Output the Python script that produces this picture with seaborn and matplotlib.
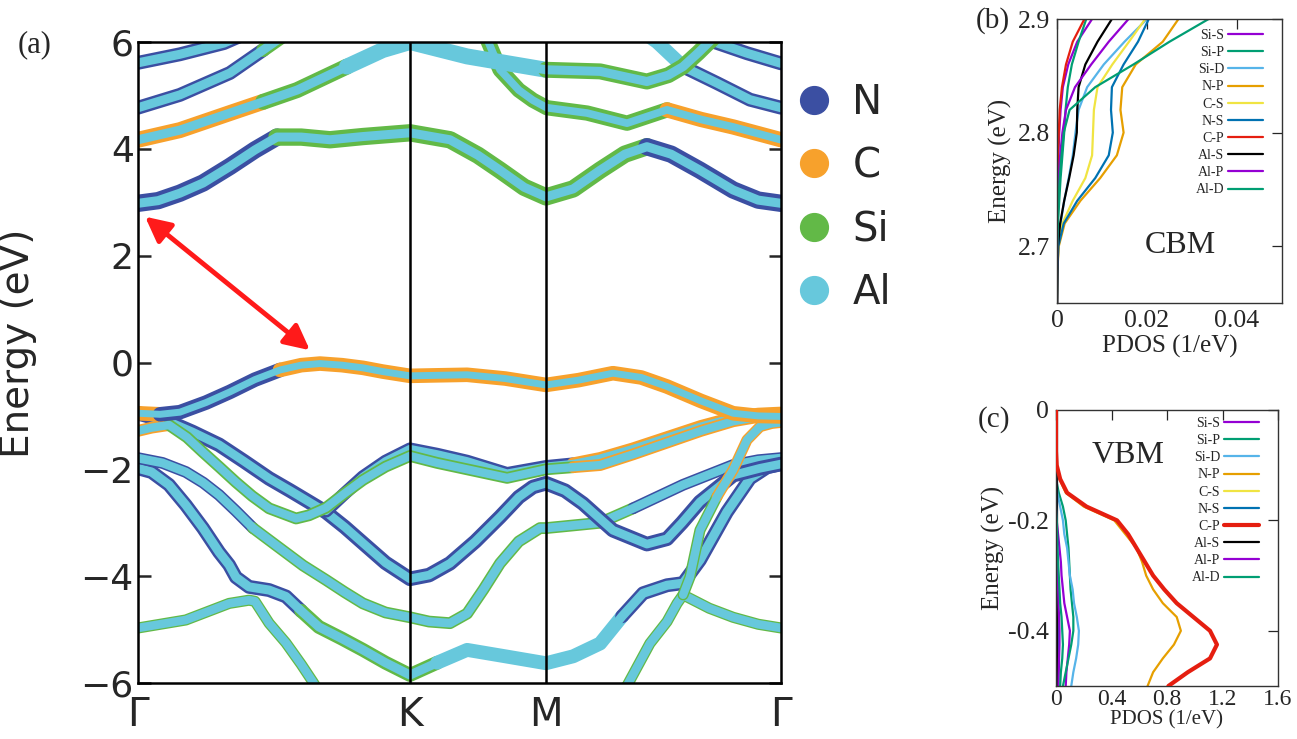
import matplotlib
matplotlib.use("Agg")
import matplotlib.pyplot as plt
from matplotlib.lines import Line2D
import seaborn as sns

sns.set_style("white")
plt.rcParams["font.family"] = ["DejaVu Sans"]

# ------------------------------------------------------------------ data
ATOMS = ["N", "C", "Si", "Al"]
ATOM_COLORS = {"N": "#3b4fa2", "C": "#f7a12c", "Si": "#62b947", "Al": "#67c8dc"}

KPATH_POS = [0.0, 1.0, 1.5, 2.364]
KPATH_LABELS = ["Γ", "K", "M", "Γ"]
E_TICKS = [6, 4, 2, 0, -2, -4, -6]

# conduction bands  (k along path, energy eV, dominant edge atom)
cb1_k = [0, 0.074, 0.154, 0.239, 0.338, 0.43, 0.511, 0.6, 0.706, 0.827, 1.0, 1.147, 1.25, 1.331, 1.42,
         1.5, 1.6, 1.699, 1.79, 1.871, 1.96, 2.066, 2.188, 2.28, 2.364]
cb1_e = [2.98, 3.03, 3.17, 3.36, 3.67, 3.98, 4.22, 4.22, 4.17, 4.23, 4.30, 4.17, 3.88, 3.60, 3.28,
         3.10, 3.25, 3.60, 3.90, 4.04, 3.90, 3.60, 3.23, 3.04, 2.98]
cb1_w = ["N"] * 6 + ["Si"] * 13 + ["N"] * 6

cb2_k = [0, 0.154, 0.338, 0.46, 0.585, 0.768, 0.9, 1.0, 1.21, 1.5, 1.699, 1.871, 1.95, 2.004, 2.06, 2.12]
cb2_e = [4.17, 4.35, 4.67, 4.88, 5.10, 5.54, 5.85, 6.0, 5.73, 5.48, 5.45, 5.26, 5.38, 5.54, 5.80, 6.1]
cb2_w = ["C", "C", "C", "Si", "Si", "Al", "Al", "Al", "Al", "Si", "Si", "Si", "Si", "Si", "Si", "Si"]

cb3_k = [0, 0.154, 0.338, 0.46, 0.53]
cb3_e = [4.77, 5.01, 5.42, 5.85, 6.1]
cb3_w = ["N", "N", "N", "Si", "Si"]

cb4_k = [0, 0.154, 0.316, 0.37]
cb4_e = [5.61, 5.77, 5.98, 6.1]
cb4_w = ["N", "N", "N", "N"]

cb5_k = [2.09, 2.239, 2.364]
cb5_e = [6.05, 5.79, 5.60]
cb5_w = ["N", "N", "N"]

cb6_k = [1.88, 1.908, 2.004, 2.129, 2.25, 2.364]
cb6_e = [6.1, 6.0, 5.54, 5.23, 4.92, 4.77]
cb6_w = ["Al", "Al", "N", "N", "N", "N"]

cb7_k = [1.28, 1.331, 1.40, 1.452, 1.503, 1.651, 1.798, 1.945, 2.07, 2.188, 2.364]
cb7_e = [6.1, 5.48, 5.1, 4.91, 4.77, 4.67, 4.48, 4.73, 4.55, 4.41, 4.17]
cb7_w = ["Si"] * 7 + ["C"] * 4

# valence bands
vb1_k = [0, 0.081, 0.154, 0.25, 0.338, 0.43, 0.522, 0.6, 0.669, 0.75, 0.827, 0.9, 1.0, 1.1, 1.21,
         1.35, 1.5, 1.62, 1.746, 1.85, 1.945, 2.07, 2.188, 2.28, 2.364]
vb1_e = [-0.95, -0.97, -0.93, -0.75, -0.55, -0.32, -0.14, -0.05, -0.02, -0.05, -0.10, -0.17, -0.25,
         -0.24, -0.23, -0.30, -0.42, -0.33, -0.20, -0.28, -0.45, -0.72, -0.95, -1.0, -1.01]
vb1_w = ["C"] + ["N"] * 5 + ["C"] * 19

vb2_k = [0, 0.114, 0.2, 0.298, 0.39, 0.482, 0.56, 0.629, 0.691, 0.76, 0.827, 0.91, 1.0, 1.07, 1.147,
         1.24, 1.331, 1.40, 1.452, 1.5, 1.57, 1.636, 1.746, 1.871, 1.945, 2.0, 2.066, 2.188, 2.287, 2.364]
vb2_e = [-0.95, -1.11, -1.30, -1.54, -1.85, -2.17, -2.40, -2.61, -2.80, -3.08, -3.38, -3.75, -4.05,
         -3.98, -3.76, -3.35, -2.89, -2.52, -2.33, -2.26, -2.40, -2.64, -3.14, -3.40, -3.30, -3.0,
         -2.61, -2.11, -1.98, -1.90]
vb2_w = ["N"] * 30

vb3_k = [0, 0.05, 0.114, 0.18, 0.239, 0.30, 0.360, 0.42, 0.482, 0.581, 0.629, 0.691, 0.76, 0.827,
         0.91, 1.0, 1.1, 1.21, 1.357, 1.5, 1.6, 1.699, 1.82, 1.945, 2.07, 2.188, 2.28, 2.364]
vb3_e = [-1.28, -1.22, -1.17, -1.40, -1.68, -1.96, -2.24, -2.50, -2.73, -2.92, -2.86, -2.72, -2.45,
         -2.20, -1.95, -1.75, -1.88, -2.0, -2.16, -2.0, -1.96, -1.92, -1.72, -1.50, -1.28, -1.10,
         -1.02, -0.98]
vb3_w = ["C"] * 2 + ["Si"] * 18 + ["C"] * 8

vbp_k = [0.691, 0.76, 0.827, 0.91, 1.0, 1.1, 1.21, 1.357, 1.5, 1.6, 1.699, 1.82, 1.945, 2.07, 2.188,
         2.28, 2.364]
vbp_e = [-2.78, -2.45, -2.14, -1.85, -1.62, -1.72, -1.85, -2.08, -1.95, -1.90, -1.80, -1.62, -1.41,
         -1.20, -1.04, -0.97, -0.95]
vbp_w = ["N"] * 9 + ["C"] * 8

l2_k = [0, 0.09, 0.176, 0.24, 0.298, 0.36, 0.423, 0.507, 0.607, 0.691, 0.76, 0.827, 0.91, 1.0, 1.07,
        1.147, 1.21, 1.27, 1.331, 1.40, 1.478, 1.5, 1.6, 1.699, 1.82, 2.004, 2.188, 2.28, 2.364]
l2_e = [-1.79, -1.88, -2.05, -2.25, -2.48, -2.78, -3.10, -3.42, -3.80, -4.07, -4.30, -4.51, -4.68,
        -4.77, -4.85, -4.88, -4.70, -4.25, -3.76, -3.35, -3.10, -3.10, -3.05, -3.0, -2.73, -2.29,
        -1.92, -1.83, -1.79]
l2_w = ["N"] * 6 + ["Si"] * 18 + ["N"] * 5

l1_k = [0, 0.05, 0.114, 0.176, 0.239, 0.298, 0.335, 0.360, 0.408, 0.482, 0.544, 0.60, 0.665, 0.75,
        0.827, 0.91, 1.0, 1.1, 1.21, 1.35, 1.5, 1.6, 1.699, 1.78, 1.857, 1.945, 2.004, 2.066, 2.165,
        2.25, 2.313, 2.364]
l1_e = [-1.98, -2.05, -2.29, -2.67, -3.10, -3.55, -3.79, -4.02, -4.20, -4.26, -4.38, -4.65, -4.95,
        -5.17, -5.38, -5.62, -5.85, -5.62, -5.38, -5.50, -5.63, -5.50, -5.26, -4.75, -4.32, -4.17,
        -4.13, -3.70, -2.80, -2.17, -1.96, -1.90]
l1_w = ["N"] * 11 + ["Si"] * 6 + ["Al"] * 6 + ["N"] * 9

l3a_k = [0, 0.176, 0.335, 0.408, 0.43, 0.482, 0.544, 0.60, 0.643, 0.67]
l3a_e = [-4.97, -4.82, -4.51, -4.45, -4.47, -4.88, -5.25, -5.65, -5.98, -6.2]
l3a_w = ["Si"] * 10

l3b_k = [1.77, 1.798, 1.882, 1.945, 1.982, 2.004, 2.10, 2.188, 2.28, 2.364]
l3b_e = [-6.2, -6.05, -5.26, -4.85, -4.51, -4.35, -4.60, -4.77, -4.90, -4.97]
l3b_w = ["Si"] * 10

vbd_k = [2.004, 2.029, 2.066, 2.129, 2.188, 2.239, 2.287, 2.33, 2.364]
vbd_e = [-4.35, -4.02, -3.14, -2.51, -2.01, -1.45, -1.20, -1.14, -1.12]
vbd_w = ["Si", "Si", "Si", "C", "C", "C", "C", "C", "C"]

# PDOS panel (b): CBM
pdos_b_energy = [2.65, 2.68, 2.70, 2.72, 2.74, 2.76, 2.78, 2.80, 2.82, 2.84, 2.86, 2.88, 2.90]
pdos_b_sis = [0, 0, 0, 0, 0.0001, 0.0002, 0.0003, 0.0005, 0.0008, 0.0013, 0.0025, 0.0045, 0.0078]
pdos_b_sip = [0, 0.00005, 0.0001, 0.0002, 0.0005, 0.0008, 0.0012, 0.0016, 0.0019, 0.0024, 0.0033, 0.0048, 0.0065]
pdos_b_sid = [0, 0.0001, 0.0003, 0.0008, 0.0016, 0.0026, 0.0035, 0.0041, 0.0048, 0.0067, 0.0104, 0.0150, 0.0200]
pdos_b_np = [0, 0.0001, 0.0004, 0.0017, 0.0052, 0.0096, 0.0133, 0.0148, 0.0141, 0.0145, 0.0175, 0.0235, 0.0270]
pdos_b_cs = [0, 0.0001, 0.0002, 0.0012, 0.0035, 0.0063, 0.0078, 0.0080, 0.0082, 0.0090, 0.0123, 0.0160, 0.0196]
pdos_b_ns = [0, 0.0001, 0.0003, 0.0015, 0.0045, 0.0085, 0.0115, 0.0124, 0.0120, 0.0122, 0.0148, 0.0180, 0.0204]
pdos_b_cp = [0, 0, 0, 0, 0, 0.0001, 0.0002, 0.0004, 0.0006, 0.0011, 0.0020, 0.0035, 0.0061]
pdos_b_als = [0, 0.0001, 0.0002, 0.0007, 0.0016, 0.0027, 0.0037, 0.0044, 0.0045, 0.0048, 0.0063, 0.0090, 0.0122]
pdos_b_alp = [0, 0, 0.0001, 0.0001, 0.0002, 0.0004, 0.0007, 0.0012, 0.0020, 0.0040, 0.0076, 0.0115, 0.0159]
pdos_b_ald = [0, 0, 0.0001, 0.0002, 0.0003, 0.0006, 0.0010, 0.0015, 0.0028, 0.0085, 0.0170, 0.0250, 0.0337]

# PDOS panel (c): VBM
pdos_c_energy = [0, -0.025, -0.05, -0.075, -0.1, -0.125, -0.15, -0.175, -0.2, -0.225, -0.25, -0.275,
                 -0.3, -0.325, -0.35, -0.375, -0.4, -0.425, -0.45, -0.475, -0.5]
pdos_c_sis = [0, 0, 0, 0, 0, 0, 0, 0, 0.005, 0.015, 0.025, 0.035, 0.04, 0.05, 0.06, 0.08, 0.10, 0.095, 0.085, 0.075, 0.07]
pdos_c_sip = [0, 0, 0, 0, 0, 0, 0.02, 0.05, 0.07, 0.08, 0.09, 0.095, 0.10, 0.105, 0.115, 0.125, 0.125, 0.11, 0.09, 0.07, 0.05]
pdos_c_sid = [0, 0, 0, 0, 0, 0, 0.01, 0.03, 0.05, 0.06, 0.08, 0.09, 0.10, 0.12, 0.13, 0.15, 0.165, 0.16, 0.145, 0.125, 0.11]
pdos_c_np = [0, 0, 0, 0, 0.004, 0.025, 0.07, 0.20, 0.42, 0.50, 0.58, 0.62, 0.65, 0.70, 0.77, 0.87, 0.90, 0.85, 0.77, 0.70, 0.66]
pdos_c_cs = [0, 0, 0, 0, 0, 0, 0.001, 0.002, 0.003, 0.004, 0.005, 0.006, 0.007, 0.008, 0.009, 0.01, 0.011, 0.011, 0.01, 0.009, 0.009]
pdos_c_ns = [0, 0, 0, 0, 0, 0, 0.002, 0.004, 0.006, 0.007, 0.008, 0.009, 0.01, 0.011, 0.012, 0.013, 0.014, 0.014, 0.013, 0.012, 0.011]
pdos_c_cp = [0, 0, 0, 0, 0.005, 0.03, 0.08, 0.22, 0.44, 0.52, 0.58, 0.64, 0.70, 0.78, 0.87, 0.99, 1.11, 1.16, 1.11, 0.95, 0.81]
pdos_c_als = [0.004, 0.004, 0.004, 0.004, 0.004, 0.004, 0.004, 0.004, 0.004, 0.004, 0.004, 0.004, 0.004, 0.004, 0.004, 0.004, 0.004, 0.004, 0.004, 0.004, 0.004]
pdos_c_alp = [0, 0, 0, 0, 0, 0, 0, 0, 0.003, 0.005, 0.008, 0.01, 0.012, 0.015, 0.018, 0.022, 0.025, 0.025, 0.022, 0.02, 0.018]
pdos_c_ald = [0, 0, 0, 0, 0, 0, 0, 0, 0.005, 0.008, 0.01, 0.015, 0.02, 0.025, 0.03, 0.04, 0.045, 0.05, 0.045, 0.035, 0.03]

ORBITALS = ["Si-S", "Si-P", "Si-D", "N-P", "C-S", "N-S", "C-P", "Al-S", "Al-P", "Al-D"]
ORB_COLORS = ["#9400d3", "#009e73", "#56b4e9", "#e69f00", "#f0e442", "#0072b2", "#e51e10",
              "#000000", "#9400d3", "#009e73"]

# ------------------------------------------------------------------ figure
W, H = 1297, 739
fig = plt.figure(figsize=(W / 100, H / 100), dpi=100)


def frac_box(l, t, r, b):
    return [l / W, 1 - b / H, (r - l) / W, (b - t) / H]


ax = fig.add_axes(frac_box(138, 42, 781, 683))


def draw_band(ax, k, e, w, outer=8.0, inner=4.6):
    n = len(k)
    i = 0
    while i < n - 1:
        j = i
        while j + 1 < n - 1 and w[j + 1] == w[i]:
            j += 1
        sns.lineplot(x=k[i:j + 2], y=e[i:j + 2], sort=False, estimator=None,
                     color=ATOM_COLORS[w[i]], lw=outer, solid_capstyle="round",
                     solid_joinstyle="round", ax=ax)
        i = j + 1
    sns.lineplot(x=k, y=e, sort=False, estimator=None, color=ATOM_COLORS["Al"], lw=inner,
                 solid_capstyle="round", solid_joinstyle="round", ax=ax)


bands = [
    (l3a_k, l3a_e, l3a_w, 8.0, 6.2),
    (l3b_k, l3b_e, l3b_w, 8.0, 6.2),
    (l1_k, l1_e, l1_w, 10.0, 6.5),
    (l2_k, l2_e, l2_w, 8.5, 6.3),
    (vb2_k, vb2_e, vb2_w, 10.5, 6.2),
    (vbp_k, vbp_e, vbp_w, 9.5, 6.0),
    (vb3_k, vb3_e, vb3_w, 8.5, 6.0),
    (vbd_k, vbd_e, vbd_w, 8.0, 6.0),
    (vb1_k, vb1_e, vb1_w, 10.5, 5.0),
    (cb4_k, cb4_e, cb4_w, 10.0, 6.5),
    (cb3_k, cb3_e, cb3_w, 10.0, 6.5),
    (cb5_k, cb5_e, cb5_w, 10.0, 6.5),
    (cb6_k, cb6_e, cb6_w, 10.0, 6.5),
    (cb7_k, cb7_e, cb7_w, 11.0, 5.5),
    (cb2_k, cb2_e, cb2_w, 11.5, 6.5),
    (cb1_k, cb1_e, cb1_w, 12.5, 6.5),
]
for k, e, w, lo, li in bands:
    draw_band(ax, k, e, w, lo, li)

for kv in KPATH_POS[1:3]:
    ax.axvline(kv, color="black", lw=1.8, zorder=5)

ax.set_xlim(KPATH_POS[0], KPATH_POS[-1])
ax.set_ylim(-6, 6)
ax.set_xticks(KPATH_POS)
ax.set_xticklabels(KPATH_LABELS, fontsize=28)
ax.set_yticks(E_TICKS)
ax.set_yticklabels([("−" + str(-v)) if v < 0 else str(v) for v in E_TICKS], fontsize=26)
ax.tick_params(axis="x", length=0, pad=9)
ax.tick_params(axis="y", direction="in", length=9, width=1.8, left=True, right=True, pad=3)
for sp in ax.spines.values():
    sp.set_linewidth(1.8)
    sp.set_color("black")
ax.set_ylabel("Energy (eV)", fontsize=28)
ax.yaxis.set_label_coords(-0.157, 0.53)

ax.annotate("", xy=(0.026, 2.73), xytext=(0.632, 0.23),
            arrowprops=dict(arrowstyle="<|-|>", color="#ff1a1a", lw=3.5, mutation_scale=38,
                            shrinkA=0, shrinkB=0), zorder=6)

handles = [Line2D([], [], marker="o", ls="", markersize=20, color=ATOM_COLORS[a]) for a in ATOMS]
fig.legend(handles, ATOMS, loc="upper left", bbox_to_anchor=(790 / W, 1 - 83 / H), frameon=False,
           fontsize=29, labelspacing=0.58, handletextpad=0.35, borderpad=0, borderaxespad=0,
           handlelength=1.2)

fig.text(35 / W, 1 - 45 / H, "(a)", fontsize=22, ha="center", va="center", family="Liberation Serif")

# ------------------------------------------------------------------ PDOS panels
SERIF = "Liberation Serif"


def style_pdos(a, size=18.5, pad=5):
    a.tick_params(direction="in", top=True, right=True, length=7, width=0.9, labelsize=size, pad=pad)
    for lab in a.get_xticklabels() + a.get_yticklabels():
        lab.set_family(SERIF)
    for sp in a.spines.values():
        sp.set_linewidth(1.0)
        sp.set_color("#333333")


axb = fig.add_axes(frac_box(1057, 19, 1282, 303))
b_series = [pdos_b_sis, pdos_b_sip, pdos_b_sid, pdos_b_np, pdos_b_cs, pdos_b_ns, pdos_b_cp,
            pdos_b_als, pdos_b_alp, pdos_b_ald]
for name, col, vals in zip(ORBITALS, ORB_COLORS, b_series):
    sns.lineplot(x=vals, y=pdos_b_energy, sort=False, estimator=None, color=col, lw=1.6, ax=axb,
                 label=name)
axb.set_xlim(0, 0.05)
axb.set_ylim(2.65, 2.9)
axb.set_xticks([0, 0.02, 0.04])
axb.set_xticklabels(["0", "0.02", "0.04"])
axb.set_yticks([2.7, 2.8, 2.9])
axb.set_yticklabels(["2.7", "2.8", "2.9"])
style_pdos(axb)
axb.set_xlabel("PDOS (1/eV)", fontsize=18, family=SERIF, labelpad=2)
axb.set_ylabel("Energy (eV)", fontsize=18, family=SERIF, labelpad=4)
axb.text(0.547, 0.204, "CBM", transform=axb.transAxes, fontsize=23, family=SERIF,
         ha="center", va="center")
axb.legend(loc="upper right", bbox_to_anchor=(0.915, 0.965), frameon=False, markerfirst=False,
           prop={"family": SERIF, "size": 10}, labelspacing=0.3, handlelength=2.5,
           handletextpad=0.3, borderpad=0, borderaxespad=0)

axc = fig.add_axes(frac_box(1056, 410, 1278, 686))
c_series = [pdos_c_sis, pdos_c_sip, pdos_c_sid, pdos_c_np, pdos_c_cs, pdos_c_ns, pdos_c_cp,
            pdos_c_als, pdos_c_alp, pdos_c_ald]
for name, col, vals in zip(ORBITALS, ORB_COLORS, c_series):
    sns.lineplot(x=vals, y=pdos_c_energy, sort=False, estimator=None, color=col,
                 lw=3.0 if name == "C-P" else 1.6, ax=axc, label=name,
                 zorder=3 if name == "C-P" else 2)
axc.set_xlim(0, 1.6)
axc.set_ylim(-0.5, 0)
axc.set_xticks([0, 0.4, 0.8, 1.2, 1.6])
axc.set_xticklabels(["0", "0.4", "0.8", "1.2", "1.6"])
axc.set_yticks([0, -0.2, -0.4])
axc.set_yticklabels(["0", "-0.2", "-0.4"])
style_pdos(axc)
axc.tick_params(axis="x", labelsize=17, pad=2)
axc.set_xlabel("PDOS (1/eV)", fontsize=15, family=SERIF, labelpad=0)
axc.set_ylabel("Energy (eV)", fontsize=18, family=SERIF, labelpad=2)
axc.text(0.324, 0.835, "VBM", transform=axc.transAxes, fontsize=23, family=SERIF,
         ha="center", va="center")
axc.legend(loc="upper right", bbox_to_anchor=(0.915, 0.975), frameon=False, markerfirst=False,
           prop={"family": SERIF, "size": 10}, labelspacing=0.3, handlelength=2.5,
           handletextpad=0.3, borderpad=0, borderaxespad=0)

fig.text(993 / W, 1 - 21 / H, "(b)", fontsize=21, ha="center", va="center", family=SERIF)
fig.text(994 / W, 1 - 420 / H, "(c)", fontsize=21, ha="center", va="center", family=SERIF)

fig.savefig("out.png", dpi=100)
